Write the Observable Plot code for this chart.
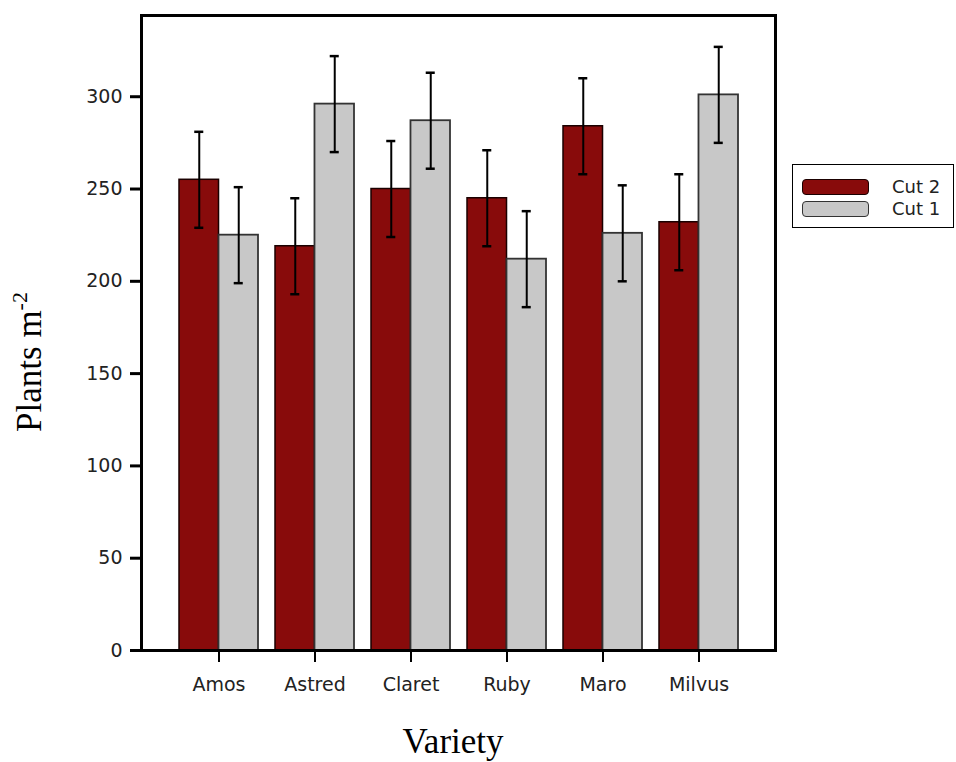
<!DOCTYPE html>
<html>
<head>
<meta charset="utf-8">
<script src="https://cdn.jsdelivr.net/npm/d3@7"></script>
<script src="https://cdn.jsdelivr.net/npm/@observablehq/plot@0.6"></script>
<style>
  body { margin: 0; background: #fff; }
  #wrap { position: relative; width: 956px; height: 762px; }
  #legend { position: absolute; left: 792px; top: 164px; width: 162px; height: 64px;
            border: 1.5px solid #000; box-sizing: border-box; background: #fff;
            font-family: "DejaVu Sans", sans-serif; font-size: 18px; color: #222; }
  .sw { position: absolute; left: 9px; width: 67px; height: 16px; border-radius: 4px;
        box-sizing: border-box; border: 1.8px solid #222; }
  .lab { position: absolute; left: 99px; line-height: 16px; }
  svg text { fill: #222; }
</style>
</head>
<body>
<div id="wrap"></div>
<script>
// ---- data ----
const varieties = ["Amos", "Astred", "Claret", "Ruby", "Maro", "Milvus"];
const seriesNames = ["Cut 2", "Cut 1"];
const cut2 = [255, 219, 250, 245, 284, 232];
const cut1 = [225, 296, 287, 212, 226, 301];
const cut2Err = [26, 26, 26, 26, 26, 26];
const cut1Err = [26, 26, 26, 26, 26, 26];
const yTicks = [0, 50, 100, 150, 200, 250, 300];
const xTitle = "Variety";
const yTitle = "Plants m";
const yTitleSup = "-2";

// ---- styles ----
const fills = ["#880b0b", "#c8c8c8"];
const strokes = ["#1a0000", "#333333"];

const rows = varieties.map((v, i) => ({
  variety: v, c2: cut2[i], c1: cut1[i], e2: cut2Err[i], e1: cut1Err[i]
}));

const xOpts = { type: "band", domain: varieties, range: [141, 775], paddingInner: 0.18, paddingOuter: 0.382 };
const yOpts = { domain: [0, 344], range: [650, 15] };
const bw = Plot.scale({ x: xOpts }).bandwidth;
const capHalf = 4.5;

const chart = Plot.plot({
  width: 956,
  height: 762,
  marginLeft: 141,
  marginRight: 181,
  marginTop: 15,
  marginBottom: 112,
  style: { fontFamily: "DejaVu Sans", background: "#fff" },
  x: xOpts,
  y: yOpts,
  marks: [
    Plot.barY(rows, { x: "variety", y: "c2", fill: fills[0], stroke: strokes[0], strokeWidth: 1.5, insetRight: bw / 2 }),
    Plot.barY(rows, { x: "variety", y: "c1", fill: fills[1], stroke: strokes[1], strokeWidth: 1.8, insetLeft: bw / 2 }),
    // error bars Cut 2
    Plot.ruleX(rows, { x: "variety", y1: d => d.c2 - d.e2, y2: d => d.c2 + d.e2, dx: -bw / 4, stroke: "#000", strokeWidth: 2 }),
    Plot.tickY(rows, { x: "variety", y: d => d.c2 + d.e2, insetLeft: bw / 4 - capHalf, insetRight: bw * 3 / 4 - capHalf, stroke: "#000", strokeWidth: 2.5 }),
    Plot.tickY(rows, { x: "variety", y: d => d.c2 - d.e2, insetLeft: bw / 4 - capHalf, insetRight: bw * 3 / 4 - capHalf, stroke: "#000", strokeWidth: 2.5 }),
    // error bars Cut 1
    Plot.ruleX(rows, { x: "variety", y1: d => d.c1 - d.e1, y2: d => d.c1 + d.e1, dx: bw / 4, stroke: "#000", strokeWidth: 2 }),
    Plot.tickY(rows, { x: "variety", y: d => d.c1 + d.e1, insetLeft: bw * 3 / 4 - capHalf, insetRight: bw / 4 - capHalf, stroke: "#000", strokeWidth: 2.5 }),
    Plot.tickY(rows, { x: "variety", y: d => d.c1 - d.e1, insetLeft: bw * 3 / 4 - capHalf, insetRight: bw / 4 - capHalf, stroke: "#000", strokeWidth: 2.5 }),
    Plot.frame({ stroke: "#000", strokeWidth: 3 }),
    Plot.axisY({ ticks: yTicks, tickSize: 11, tickPadding: 8, strokeWidth: 3, fontSize: 19, label: null, stroke: "#000" }),
    Plot.axisX({ tickSize: 12, tickPadding: 15, strokeWidth: 2, fontSize: 19, label: null, stroke: "#000" })
  ]
});

const wrap = document.getElementById("wrap");
wrap.appendChild(chart);

// axis titles
const svg = d3.select(chart);
const yt = svg.append("text")
  .attr("transform", "translate(41,362) rotate(-90)")
  .attr("text-anchor", "middle")
  .style("font-family", "'Liberation Serif', serif")
  .style("font-size", "35px")
  .style("fill", "#000");
yt.append("tspan").text(yTitle);
yt.append("tspan").attr("dy", -14).style("font-size", "22px").text(yTitleSup);

svg.append("text")
  .attr("x", 453).attr("y", 753)
  .attr("text-anchor", "middle")
  .style("font-family", "'Liberation Serif', serif")
  .style("font-size", "35px")
  .style("fill", "#000")
  .text(xTitle);

// legend
const legend = document.createElement("div");
legend.id = "legend";
const tops = [14, 36];
seriesNames.forEach((name, i) => {
  const sw = document.createElement("div");
  sw.className = "sw";
  sw.style.top = tops[i] + "px";
  sw.style.background = fills[i];
  sw.style.borderColor = strokes[i];
  legend.appendChild(sw);
  const lab = document.createElement("div");
  lab.className = "lab";
  lab.style.top = tops[i] + "px";
  lab.textContent = name;
  legend.appendChild(lab);
});
wrap.appendChild(legend);
</script>
</body>
</html>
